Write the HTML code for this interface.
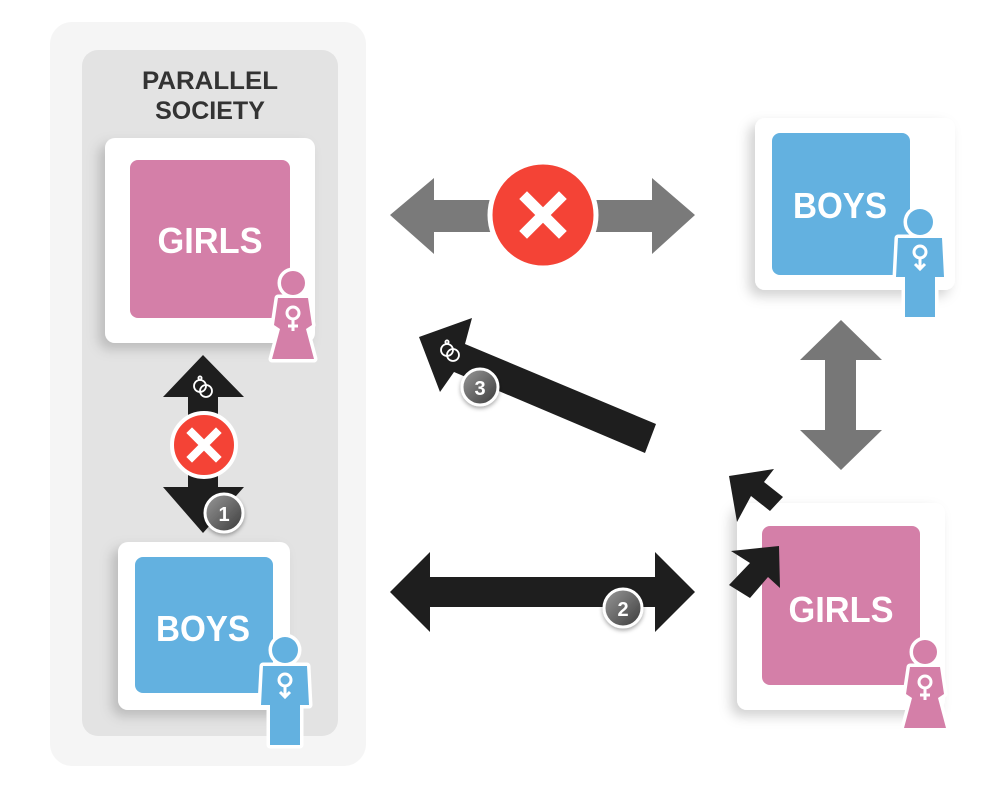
<!DOCTYPE html>
<html><head><style>body{margin:0;background:#fff}svg{display:block}</style></head>
<body>
<svg width="1000" height="800" viewBox="0 0 1000 800" xmlns="http://www.w3.org/2000/svg" font-family="Liberation Sans, sans-serif">
<defs>
<filter id="sh" x="-20%" y="-20%" width="140%" height="140%"><feDropShadow dx="-6" dy="6" stdDeviation="6" flood-color="#000" flood-opacity="0.18"/></filter>
<filter id="sh2" x="-30%" y="-30%" width="160%" height="160%"><feDropShadow dx="0" dy="2" stdDeviation="2" flood-color="#000" flood-opacity="0.35"/></filter>
<linearGradient id="bg" x1="0" y1="0" x2="1" y2="1"><stop offset="0" stop-color="#9a9a9a"/><stop offset="1" stop-color="#3a3a3a"/></linearGradient>
<g id="fem">
 <g stroke="#fff" stroke-width="7" stroke-linejoin="round">
 <circle cx="0" cy="0" r="12" fill="#d47fa8"/>
 <path d="M-15,15 L15,15 L19,42 L13,46 L21,76 L-21,76 L-13,46 L-19,42 Z" fill="#d47fa8"/>
 </g>
 <path d="M-15,15 L15,15 L19,42 L13,46 L21,76 L-21,76 L-13,46 L-19,42 Z" fill="#d47fa8"/>
 <circle cx="0" cy="0" r="12" fill="#d47fa8"/>
 <circle cx="0" cy="30" r="6" fill="none" stroke="#fff" stroke-width="3"/>
 <path d="M0,36 V48 M-5,43 H5" stroke="#fff" stroke-width="3"/>
</g>
<g id="mal">
 <g stroke="#fff" stroke-width="7" stroke-linejoin="round">
 <circle cx="0" cy="0" r="13" fill="#63b1e0"/>
 <path d="M-22,16 L22,16 L24,55 L15,55 L15,95 L-15,95 L-15,55 L-24,55 Z" fill="#63b1e0"/>
 </g>
 <path d="M-22,16 L22,16 L24,55 L15,55 L15,95 L-15,95 L-15,55 L-24,55 Z" fill="#63b1e0"/>
 <circle cx="0" cy="0" r="13" fill="#63b1e0"/>
 <circle cx="0" cy="30" r="6" fill="none" stroke="#fff" stroke-width="3"/>
 <path d="M0,36 V46 M-5,42 L0,47 L5,42" stroke="#fff" stroke-width="3" fill="none"/>
</g>
<g id="rings" fill="none" stroke="#fff" stroke-width="1.8">
 <circle cx="-3" cy="-2" r="6"/><circle cx="3" cy="3" r="6"/><circle cx="-3" cy="-10" r="1.6"/>
</g>
</defs>

<rect x="50" y="22" width="316" height="744" rx="22" fill="#f5f5f5"/>
<rect x="82" y="50" width="256" height="686" rx="16" fill="#e3e3e3"/>
<text x="210" y="89" text-anchor="middle" font-size="25" font-weight="bold" fill="#333" textLength="136" lengthAdjust="spacingAndGlyphs">PARALLEL</text>
<text x="210" y="119" text-anchor="middle" font-size="25" font-weight="bold" fill="#333">SOCIETY</text>

<rect x="105" y="138" width="210" height="205" rx="10" fill="#fff" filter="url(#sh)"/>
<rect x="130" y="160" width="160" height="158" rx="8" fill="#d47fa8"/>
<text x="210" y="253" text-anchor="middle" font-size="36" font-weight="bold" fill="#fff" textLength="105" lengthAdjust="spacingAndGlyphs">GIRLS</text>
<use href="#fem" x="293" y="283"/>

<rect x="118" y="542" width="172" height="168" rx="10" fill="#fff" filter="url(#sh)"/>
<rect x="135" y="557" width="138" height="136" rx="8" fill="#63b1e0"/>
<text x="203" y="641" text-anchor="middle" font-size="36" font-weight="bold" fill="#fff" textLength="94" lengthAdjust="spacingAndGlyphs">BOYS</text>
<use href="#mal" x="285" y="650"/>

<path d="M203,355 L244,397 L218,397 L218,487 L244,487 L203,533 L163,487 L188,487 L188,397 L163,397 Z" fill="#1e1e1e"/>
<use href="#rings" x="203" y="388"/>
<circle cx="204" cy="445" r="32" fill="#f44336" stroke="#fff" stroke-width="4"/>
<path d="M192,433 L216,457 M216,433 L192,457" stroke="#fff" stroke-width="8" stroke-linecap="square"/>
<circle cx="224" cy="513" r="19" fill="url(#bg)" stroke="#fff" stroke-width="3" filter="url(#sh2)"/>
<text x="224" y="521" text-anchor="middle" font-size="20" font-weight="bold" fill="#fff">1</text>

<path d="M390,215 L434,178 L434,200 L652,200 L652,178 L695,215 L652,254 L652,232 L434,232 L434,254 Z" fill="#7a7a7a"/>
<circle cx="543" cy="215" r="53" fill="#f44336" stroke="#fff" stroke-width="5"/>
<path d="M527,199 L559,231 M559,199 L527,231" stroke="#fff" stroke-width="11" stroke-linecap="square"/>

<rect x="755" y="118" width="200" height="172" rx="10" fill="#fff" filter="url(#sh)"/>
<rect x="772" y="133" width="138" height="142" rx="8" fill="#63b1e0"/>
<text x="840" y="218" text-anchor="middle" font-size="36" font-weight="bold" fill="#fff" textLength="94" lengthAdjust="spacingAndGlyphs">BOYS</text>
<use href="#mal" x="920" y="222"/>

<path d="M841,320 L882,360 L856,360 L856,430 L882,430 L841,470 L800,430 L825,430 L825,360 L800,360 Z" fill="#777"/>

<rect x="737" y="503" width="208" height="207" rx="10" fill="#fff" filter="url(#sh)"/>
<rect x="762" y="526" width="158" height="159" rx="8" fill="#d47fa8"/>
<text x="841" y="622" text-anchor="middle" font-size="36" font-weight="bold" fill="#fff" textLength="105" lengthAdjust="spacingAndGlyphs">GIRLS</text>
<use href="#fem" x="925" y="652"/>

<path d="M390,592 L430,552 L430,577 L655,577 L655,552 L695,592 L655,632 L655,607 L430,607 L430,632 Z" fill="#1e1e1e"/>
<circle cx="623" cy="608" r="19" fill="url(#bg)" stroke="#fff" stroke-width="3" filter="url(#sh2)"/>
<text x="623" y="616" text-anchor="middle" font-size="20" font-weight="bold" fill="#fff">2</text>

<path d="M419,337 L472,318 L465,344 L656,424 L645,453 L454,372 L440,392 Z" fill="#1e1e1e"/>
<use href="#rings" x="450" y="352"/>
<circle cx="480" cy="387" r="18" fill="url(#bg)" stroke="#fff" stroke-width="3" filter="url(#sh2)"/>
<text x="480" y="395" text-anchor="middle" font-size="20" font-weight="bold" fill="#fff">3</text>

<path d="M729,476 L774,469 L764,482 L783,497 L770,511 L751,496 L737,522 Z" fill="#1e1e1e"/>
<path d="M779,546 L780,588 L768,577 L750,598 L729,585 L750,563 L731,551 Z" fill="#1e1e1e"/>
</svg>
</body></html>
